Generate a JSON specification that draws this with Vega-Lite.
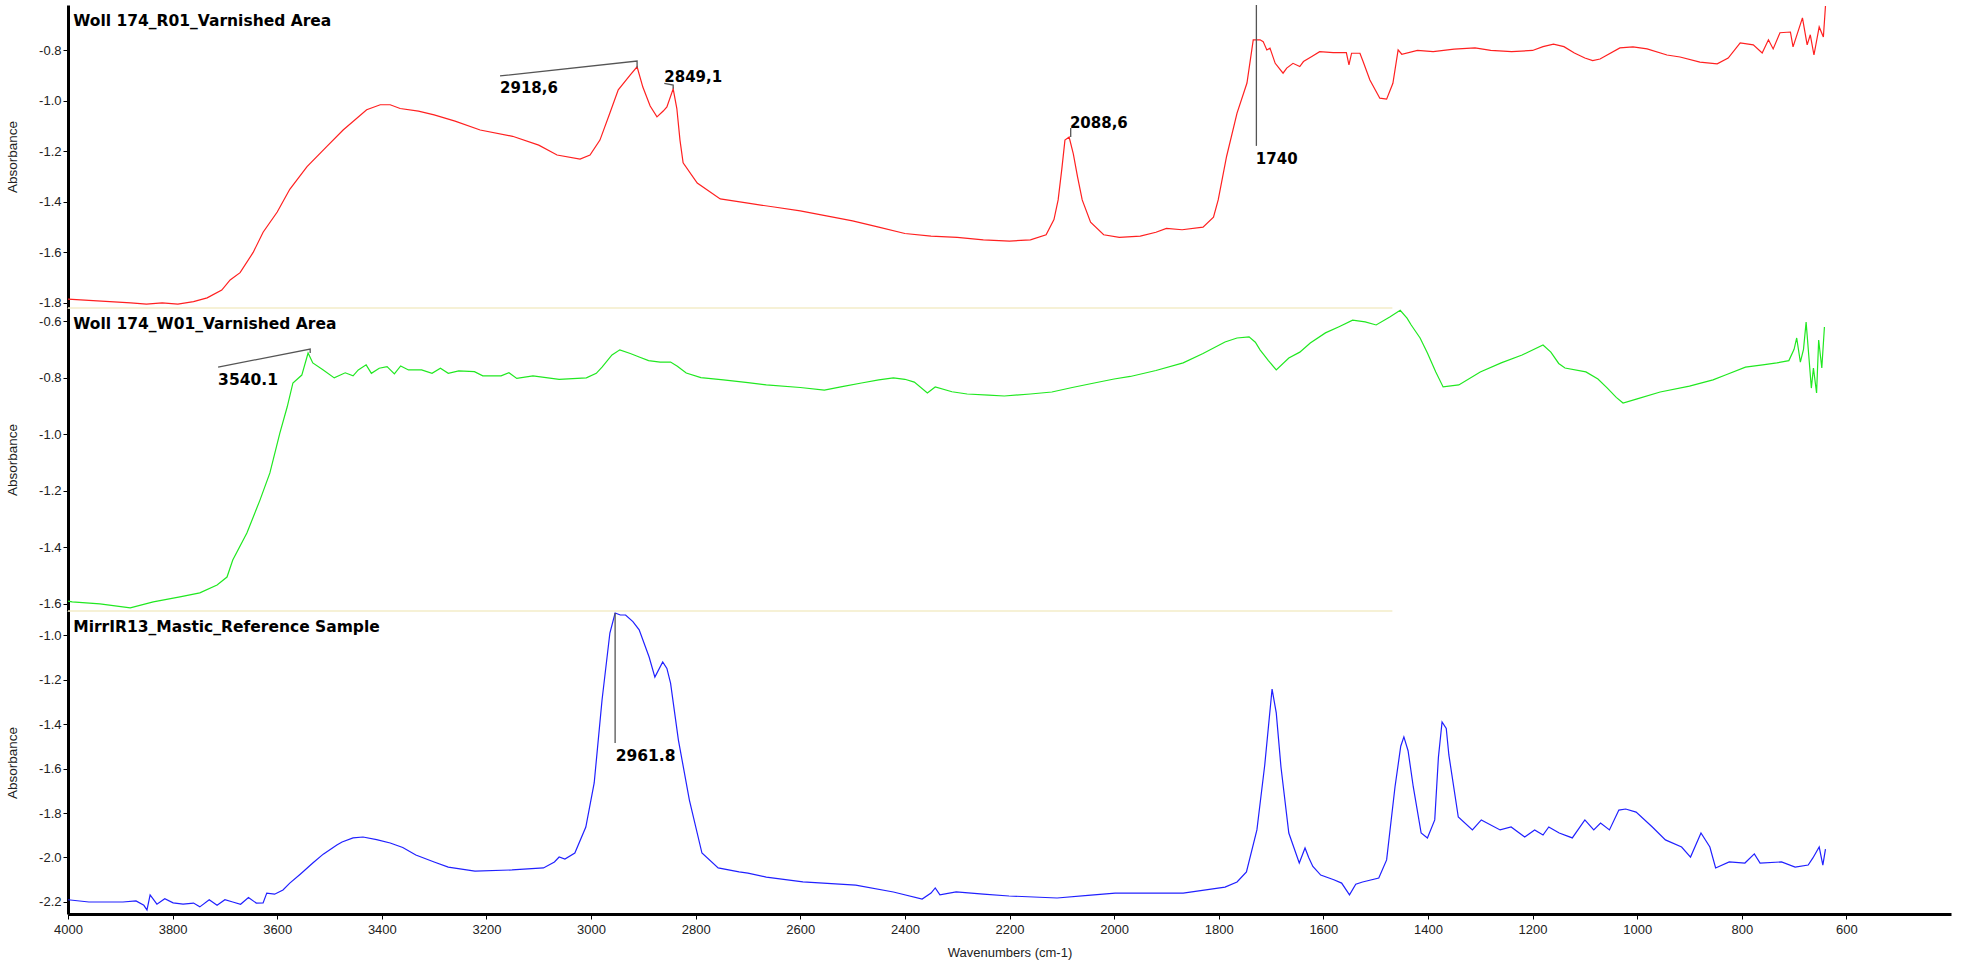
{
  "$schema": "https://vega.github.io/schema/vega-lite/v6.json",
  "width": 1883,
  "height": 909,
  "autosize": {"type": "none"},
  "padding": {"left": 68, "top": 5, "right": 10, "bottom": 53},
  "background": "white",
  "config": {"view": {"stroke": null}, "font": "Liberation Sans"},
  "datasets": {
    "red": [
      {"wn":4000,"a":-1.785},{"wn":3960,"a":-1.79},{"wn":3920,"a":-1.795},{"wn":3880,"a":-1.80},{"wn":3850,"a":-1.805},{"wn":3820,"a":-1.80},{"wn":3790,"a":-1.805},{"wn":3760,"a":-1.795},{"wn":3734,"a":-1.78},{"wn":3706,"a":-1.749},{"wn":3690,"a":-1.709},{"wn":3671,"a":-1.68},{"wn":3646,"a":-1.60},{"wn":3627,"a":-1.52},{"wn":3600,"a":-1.44},{"wn":3576,"a":-1.35},{"wn":3543,"a":-1.26},{"wn":3505,"a":-1.18},{"wn":3474,"a":-1.115},{"wn":3429,"a":-1.035},{"wn":3403,"a":-1.015},{"wn":3384,"a":-1.015},{"wn":3365,"a":-1.03},{"wn":3330,"a":-1.04},{"wn":3300,"a":-1.055},{"wn":3260,"a":-1.08},{"wn":3212,"a":-1.115},{"wn":3150,"a":-1.14},{"wn":3100,"a":-1.175},{"wn":3065,"a":-1.214},{"wn":3021,"a":-1.23},{"wn":3002,"a":-1.214},{"wn":2983,"a":-1.155},{"wn":2964,"a":-1.048},{"wn":2948,"a":-0.956},{"wn":2925,"a":-0.897},{"wn":2912,"a":-0.865},{"wn":2901,"a":-0.945},{"wn":2887,"a":-1.02},{"wn":2874,"a":-1.063},{"wn":2862,"a":-1.04},{"wn":2855,"a":-1.024},{"wn":2843,"a":-0.952},{"wn":2836,"a":-1.03},{"wn":2830,"a":-1.155},{"wn":2824,"a":-1.245},{"wn":2797,"a":-1.325},{"wn":2753,"a":-1.388},{"wn":2700,"a":-1.405},{"wn":2650,"a":-1.42},{"wn":2600,"a":-1.435},{"wn":2550,"a":-1.455},{"wn":2500,"a":-1.475},{"wn":2450,"a":-1.50},{"wn":2400,"a":-1.525},{"wn":2350,"a":-1.535},{"wn":2300,"a":-1.54},{"wn":2250,"a":-1.55},{"wn":2200,"a":-1.555},{"wn":2160,"a":-1.55},{"wn":2130,"a":-1.53},{"wn":2115,"a":-1.47},{"wn":2107,"a":-1.392},{"wn":2100,"a":-1.27},{"wn":2094,"a":-1.155},{"wn":2086,"a":-1.143},{"wn":2078,"a":-1.21},{"wn":2070,"a":-1.30},{"wn":2061,"a":-1.392},{"wn":2045,"a":-1.48},{"wn":2020,"a":-1.53},{"wn":1990,"a":-1.54},{"wn":1950,"a":-1.535},{"wn":1920,"a":-1.52},{"wn":1900,"a":-1.505},{"wn":1870,"a":-1.51},{"wn":1830,"a":-1.50},{"wn":1810,"a":-1.46},{"wn":1801,"a":-1.392},{"wn":1785,"a":-1.22},{"wn":1765,"a":-1.048},{"wn":1746,"a":-0.929},{"wn":1734,"a":-0.758},{"wn":1721,"a":-0.758},{"wn":1715,"a":-0.765},{"wn":1708,"a":-0.798},{"wn":1702,"a":-0.791},{"wn":1692,"a":-0.851},{"wn":1677,"a":-0.89},{"wn":1670,"a":-0.87},{"wn":1658,"a":-0.851},{"wn":1645,"a":-0.864},{"wn":1638,"a":-0.844},{"wn":1622,"a":-0.824},{"wn":1607,"a":-0.805},{"wn":1581,"a":-0.809},{"wn":1556,"a":-0.809},{"wn":1551,"a":-0.857},{"wn":1546,"a":-0.811},{"wn":1530,"a":-0.811},{"wn":1524,"a":-0.844},{"wn":1511,"a":-0.917},{"wn":1492,"a":-0.989},{"wn":1479,"a":-0.993},{"wn":1467,"a":-0.93},{"wn":1457,"a":-0.798},{"wn":1450,"a":-0.815},{"wn":1420,"a":-0.80},{"wn":1390,"a":-0.805},{"wn":1350,"a":-0.795},{"wn":1310,"a":-0.79},{"wn":1280,"a":-0.80},{"wn":1240,"a":-0.805},{"wn":1200,"a":-0.80},{"wn":1180,"a":-0.785},{"wn":1160,"a":-0.775},{"wn":1140,"a":-0.785},{"wn":1120,"a":-0.81},{"wn":1100,"a":-0.83},{"wn":1085,"a":-0.84},{"wn":1071,"a":-0.834},{"wn":1033,"a":-0.79},{"wn":1008,"a":-0.786},{"wn":981,"a":-0.794},{"wn":943,"a":-0.818},{"wn":918,"a":-0.826},{"wn":880,"a":-0.846},{"wn":847,"a":-0.853},{"wn":826,"a":-0.83},{"wn":803,"a":-0.77},{"wn":778,"a":-0.778},{"wn":761,"a":-0.81},{"wn":749,"a":-0.758},{"wn":740,"a":-0.794},{"wn":727,"a":-0.73},{"wn":707,"a":-0.727},{"wn":702,"a":-0.786},{"wn":684,"a":-0.671},{"wn":675,"a":-0.778},{"wn":669,"a":-0.738},{"wn":662,"a":-0.818},{"wn":652,"a":-0.707},{"wn":644,"a":-0.747},{"wn":640,"a":-0.624}
    ],
    "green": [
      {"wn":4000,"a":-1.59},{"wn":3992,"a":-1.593},{"wn":3939,"a":-1.60},{"wn":3881,"a":-1.614},{"wn":3837,"a":-1.593},{"wn":3786,"a":-1.575},{"wn":3748,"a":-1.561},{"wn":3715,"a":-1.533},{"wn":3696,"a":-1.505},{"wn":3685,"a":-1.445},{"wn":3658,"a":-1.349},{"wn":3633,"a":-1.233},{"wn":3614,"a":-1.137},{"wn":3595,"a":-0.996},{"wn":3581,"a":-0.904},{"wn":3570,"a":-0.819},{"wn":3553,"a":-0.791},{"wn":3541,"a":-0.713},{"wn":3532,"a":-0.748},{"wn":3512,"a":-0.773},{"wn":3491,"a":-0.801},{"wn":3470,"a":-0.783},{"wn":3455,"a":-0.794},{"wn":3445,"a":-0.773},{"wn":3430,"a":-0.755},{"wn":3420,"a":-0.785},{"wn":3405,"a":-0.767},{"wn":3390,"a":-0.761},{"wn":3376,"a":-0.787},{"wn":3364,"a":-0.759},{"wn":3349,"a":-0.773},{"wn":3324,"a":-0.773},{"wn":3304,"a":-0.785},{"wn":3288,"a":-0.767},{"wn":3273,"a":-0.785},{"wn":3253,"a":-0.776},{"wn":3223,"a":-0.779},{"wn":3207,"a":-0.794},{"wn":3172,"a":-0.794},{"wn":3157,"a":-0.783},{"wn":3142,"a":-0.803},{"wn":3111,"a":-0.794},{"wn":3061,"a":-0.806},{"wn":3009,"a":-0.801},{"wn":2990,"a":-0.785},{"wn":2979,"a":-0.763},{"wn":2960,"a":-0.72},{"wn":2945,"a":-0.702},{"wn":2925,"a":-0.715},{"wn":2908,"a":-0.727},{"wn":2890,"a":-0.74},{"wn":2868,"a":-0.745},{"wn":2848,"a":-0.745},{"wn":2835,"a":-0.76},{"wn":2818,"a":-0.784},{"wn":2790,"a":-0.80},{"wn":2747,"a":-0.808},{"wn":2700,"a":-0.818},{"wn":2665,"a":-0.826},{"wn":2600,"a":-0.835},{"wn":2554,"a":-0.844},{"wn":2520,"a":-0.832},{"wn":2483,"a":-0.819},{"wn":2450,"a":-0.808},{"wn":2422,"a":-0.801},{"wn":2400,"a":-0.806},{"wn":2382,"a":-0.816},{"wn":2357,"a":-0.854},{"wn":2342,"a":-0.833},{"wn":2310,"a":-0.85},{"wn":2281,"a":-0.858},{"wn":2240,"a":-0.862},{"wn":2210,"a":-0.865},{"wn":2160,"a":-0.858},{"wn":2119,"a":-0.851},{"wn":2080,"a":-0.835},{"wn":2038,"a":-0.819},{"wn":2000,"a":-0.805},{"wn":1969,"a":-0.796},{"wn":1920,"a":-0.775},{"wn":1868,"a":-0.748},{"wn":1830,"a":-0.715},{"wn":1788,"a":-0.674},{"wn":1765,"a":-0.66},{"wn":1742,"a":-0.656},{"wn":1730,"a":-0.675},{"wn":1721,"a":-0.702},{"wn":1705,"a":-0.74},{"wn":1690,"a":-0.773},{"wn":1666,"a":-0.731},{"wn":1645,"a":-0.71},{"wn":1625,"a":-0.678},{"wn":1596,"a":-0.642},{"wn":1570,"a":-0.62},{"wn":1544,"a":-0.597},{"wn":1520,"a":-0.603},{"wn":1499,"a":-0.614},{"wn":1473,"a":-0.586},{"wn":1453,"a":-0.562},{"wn":1440,"a":-0.59},{"wn":1432,"a":-0.614},{"wn":1415,"a":-0.66},{"wn":1401,"a":-0.713},{"wn":1385,"a":-0.78},{"wn":1371,"a":-0.833},{"wn":1341,"a":-0.826},{"wn":1300,"a":-0.780},{"wn":1260,"a":-0.748},{"wn":1220,"a":-0.72},{"wn":1180,"a":-0.685},{"wn":1165,"a":-0.71},{"wn":1150,"a":-0.75},{"wn":1138,"a":-0.766},{"wn":1098,"a":-0.780},{"wn":1075,"a":-0.805},{"wn":1057,"a":-0.837},{"wn":1040,"a":-0.87},{"wn":1027,"a":-0.890},{"wn":1000,"a":-0.875},{"wn":956,"a":-0.851},{"wn":900,"a":-0.83},{"wn":855,"a":-0.808},{"wn":830,"a":-0.79},{"wn":793,"a":-0.763},{"wn":760,"a":-0.755},{"wn":733,"a":-0.748},{"wn":710,"a":-0.74},{"wn":700,"a":-0.70},{"wn":695,"a":-0.660},{"wn":688,"a":-0.745},{"wn":682,"a":-0.70},{"wn":677,"a":-0.604},{"wn":672,"a":-0.72},{"wn":667,"a":-0.837},{"wn":663,"a":-0.766},{"wn":657,"a":-0.854},{"wn":653,"a":-0.667},{"wn":647,"a":-0.766},{"wn":642,"a":-0.621}
    ],
    "blue": [
      {"wn":4000,"a":-2.19},{"wn":3960,"a":-2.20},{"wn":3939,"a":-2.2},{"wn":3895,"a":-2.2},{"wn":3870,"a":-2.195},{"wn":3855,"a":-2.215},{"wn":3849,"a":-2.236},{"wn":3843,"a":-2.168},{"wn":3830,"a":-2.21},{"wn":3815,"a":-2.185},{"wn":3799,"a":-2.204},{"wn":3780,"a":-2.21},{"wn":3760,"a":-2.205},{"wn":3748,"a":-2.222},{"wn":3730,"a":-2.19},{"wn":3715,"a":-2.215},{"wn":3700,"a":-2.19},{"wn":3685,"a":-2.2},{"wn":3670,"a":-2.21},{"wn":3655,"a":-2.18},{"wn":3640,"a":-2.205},{"wn":3627,"a":-2.204},{"wn":3620,"a":-2.16},{"wn":3605,"a":-2.165},{"wn":3589,"a":-2.146},{"wn":3576,"a":-2.115},{"wn":3556,"a":-2.075},{"wn":3532,"a":-2.025},{"wn":3512,"a":-1.985},{"wn":3486,"a":-1.944},{"wn":3476,"a":-1.930},{"wn":3455,"a":-1.912},{"wn":3436,"a":-1.908},{"wn":3410,"a":-1.92},{"wn":3384,"a":-1.935},{"wn":3360,"a":-1.955},{"wn":3335,"a":-1.989},{"wn":3300,"a":-2.02},{"wn":3273,"a":-2.043},{"wn":3222,"a":-2.061},{"wn":3151,"a":-2.056},{"wn":3091,"a":-2.047},{"wn":3070,"a":-2.02},{"wn":3061,"a":-1.998},{"wn":3050,"a":-2.007},{"wn":3031,"a":-1.98},{"wn":3010,"a":-1.863},{"wn":2994,"a":-1.665},{"wn":2979,"a":-1.292},{"wn":2964,"a":-0.991},{"wn":2954,"a":-0.901},{"wn":2944,"a":-0.91},{"wn":2934,"a":-0.91},{"wn":2920,"a":-0.94},{"wn":2908,"a":-0.977},{"wn":2889,"a":-1.099},{"wn":2878,"a":-1.189},{"wn":2863,"a":-1.121},{"wn":2855,"a":-1.15},{"wn":2848,"a":-1.216},{"wn":2833,"a":-1.472},{"wn":2812,"a":-1.742},{"wn":2788,"a":-1.98},{"wn":2757,"a":-2.047},{"wn":2717,"a":-2.065},{"wn":2700,"a":-2.07},{"wn":2665,"a":-2.088},{"wn":2595,"a":-2.11},{"wn":2494,"a":-2.124},{"wn":2422,"a":-2.155},{"wn":2367,"a":-2.187},{"wn":2350,"a":-2.16},{"wn":2342,"a":-2.137},{"wn":2333,"a":-2.168},{"wn":2302,"a":-2.155},{"wn":2250,"a":-2.165},{"wn":2201,"a":-2.173},{"wn":2109,"a":-2.182},{"wn":2050,"a":-2.17},{"wn":1998,"a":-2.16},{"wn":1969,"a":-2.16},{"wn":1868,"a":-2.16},{"wn":1788,"a":-2.133},{"wn":1765,"a":-2.11},{"wn":1747,"a":-2.065},{"wn":1727,"a":-1.876},{"wn":1712,"a":-1.584},{"wn":1698,"a":-1.243},{"wn":1690,"a":-1.35},{"wn":1681,"a":-1.593},{"wn":1666,"a":-1.89},{"wn":1646,"a":-2.025},{"wn":1635,"a":-1.957},{"wn":1628,"a":-2.0},{"wn":1620,"a":-2.04},{"wn":1605,"a":-2.079},{"wn":1580,"a":-2.10},{"wn":1565,"a":-2.115},{"wn":1550,"a":-2.168},{"wn":1538,"a":-2.12},{"wn":1525,"a":-2.11},{"wn":1494,"a":-2.092},{"wn":1479,"a":-2.011},{"wn":1463,"a":-1.683},{"wn":1452,"a":-1.50},{"wn":1446,"a":-1.458},{"wn":1438,"a":-1.52},{"wn":1428,"a":-1.683},{"wn":1413,"a":-1.89},{"wn":1401,"a":-1.912},{"wn":1387,"a":-1.831},{"wn":1380,"a":-1.55},{"wn":1373,"a":-1.391},{"wn":1365,"a":-1.42},{"wn":1360,"a":-1.539},{"wn":1342,"a":-1.818},{"wn":1315,"a":-1.876},{"wn":1298,"a":-1.831},{"wn":1262,"a":-1.876},{"wn":1241,"a":-1.863},{"wn":1215,"a":-1.908},{"wn":1196,"a":-1.876},{"wn":1180,"a":-1.899},{"wn":1169,"a":-1.863},{"wn":1149,"a":-1.89},{"wn":1124,"a":-1.912},{"wn":1100,"a":-1.831},{"wn":1083,"a":-1.876},{"wn":1070,"a":-1.845},{"wn":1053,"a":-1.876},{"wn":1035,"a":-1.787},{"wn":1022,"a":-1.782},{"wn":1002,"a":-1.796},{"wn":971,"a":-1.863},{"wn":946,"a":-1.921},{"wn":915,"a":-1.953},{"wn":898,"a":-1.998},{"wn":878,"a":-1.89},{"wn":861,"a":-1.953},{"wn":850,"a":-2.047},{"wn":824,"a":-2.02},{"wn":794,"a":-2.025},{"wn":776,"a":-1.984},{"wn":765,"a":-2.025},{"wn":724,"a":-2.02},{"wn":698,"a":-2.043},{"wn":673,"a":-2.034},{"wn":664,"a":-2.002},{"wn":652,"a":-1.953},{"wn":645,"a":-2.034},{"wn":640,"a":-1.962}
    ],
    "sep1": [{"wn":4000,"a":-1.82},{"wn":1468,"a":-1.82}],
    "sep2": [{"wn":4000,"a":-1.625},{"wn":1468,"a":-1.625}],
    "lead1": [
      {"id":"A","o":1,"wn":3174,"a":-0.901},{"id":"A","o":2,"wn":2912,"a":-0.842},{"id":"A","o":3,"wn":2912,"a":-0.869},
      {"id":"B","o":1,"wn":2860,"a":-0.93},{"id":"B","o":2,"wn":2843,"a":-0.937},{"id":"B","o":3,"wn":2843,"a":-0.952},
      {"id":"C","o":1,"wn":2083,"a":-1.107},{"id":"C","o":2,"wn":2083,"a":-1.143},
      {"id":"D","o":1,"wn":1728,"a":-0.62},{"id":"D","o":2,"wn":1728,"a":-1.178}
    ],
    "lab1": [
      {"wn":3174,"a":-0.968,"t":"2918,6"},
      {"wn":2860,"a":-0.925,"t":"2849,1"},
      {"wn":2084.5,"a":-1.107,"t":"2088,6"},
      {"wn":1729,"a":-1.249,"t":"1740"}
    ],
    "title1": [{"wn":3990,"a":-0.703,"t":"Woll 174_R01_Varnished Area"}],
    "lead2": [
      {"id":"A","o":1,"wn":3713,"a":-0.763},{"id":"A","o":2,"wn":3537,"a":-0.699},{"id":"A","o":3,"wn":3537,"a":-0.713}
    ],
    "lab2": [
      {"wn":3713,"a":-0.826,"t":"3540.1"},
      {"wn":3990,"a":-0.628,"t":"Woll 174_W01_Varnished Area"}
    ],
    "lead3": [
      {"id":"A","o":1,"wn":2954,"a":-0.901},{"id":"A","o":2,"wn":2954,"a":-1.485}
    ],
    "lab3": [
      {"wn":2953,"a":-1.566,"t":"2961.8"},
      {"wn":3990,"a":-0.987,"t":"MirrIR13_Mastic_Reference Sample"}
    ]
  },
  "encoding": {
    "x": {
      "field": "wn",
      "type": "quantitative",
      "scale": {"domain": [400, 4000], "reverse": true, "nice": false, "zero": false},
      "axis": {
        "values": [4000,3800,3600,3400,3200,3000,2800,2600,2400,2200,2000,1800,1600,1400,1200,1000,800,600],
        "format": "d",
        "title": "Wavenumbers (cm-1)",
        "grid": false,
        "labelFlush": false,
        "labelFont": "Liberation Sans",
        "labelFontSize": 13,
        "labelColor": "#222",
        "labelPadding": 4,
        "tickSize": 5,
        "tickColor": "#000",
        "domainColor": "#000",
        "domainWidth": 3,
        "titleFont": "Liberation Sans",
        "titleFontSize": 13,
        "titleFontWeight": "normal",
        "titleColor": "#222",
        "titlePadding": 10
      }
    }
  },
  "layer": [
    {
      "encoding": {
        "y": {
          "field": "a",
          "type": "quantitative",
          "scale": {"domain": [-1.82, -0.62], "range": [303, 0], "nice": false, "zero": false},
          "axis": {
            "orient": "left",
            "values": [-0.8, -1.0, -1.2, -1.4, -1.6, -1.8],
            "format": ".1f",
            "labelExpr": "replace(datum.label, '\u2212', '-')",
            "title": "Absorbance",
            "grid": false,
            "labelFlush": false,
            "labelFont": "Liberation Sans",
            "labelFontSize": 13,
            "labelColor": "#222",
            "labelPadding": 2,
            "tickSize": 5,
            "tickColor": "#000",
            "domainColor": "#000",
            "domainWidth": 3,
            "titleFont": "Liberation Sans",
            "titleFontSize": 13.5,
            "titleFontWeight": "normal",
            "titleColor": "#222",
            "titlePadding": 19
          }
        }
      },
      "layer": [
        {"data": {"name": "sep1"}, "mark": {"type": "line", "color": "#f3ecc8", "strokeWidth": 1.5}, "encoding": {}},
        {"data": {"name": "red"}, "mark": {"type": "line", "color": "#ff2020", "strokeWidth": 1.2}, "encoding": {}},
        {"data": {"name": "lead1"}, "mark": {"type": "line", "color": "#555555", "strokeWidth": 1.3}, "encoding": {"detail": {"field": "id"}, "order": {"field": "o"}}},
        {"data": {"name": "lab1"}, "mark": {"type": "text", "font": "DejaVu Sans", "fontWeight": "bold", "fontSize": 15, "align": "left", "baseline": "alphabetic", "color": "#000"}, "encoding": {"text": {"field": "t"}}},
        {"data": {"name": "title1"}, "mark": {"type": "text", "font": "DejaVu Sans", "fontWeight": "bold", "fontSize": 15.5, "align": "left", "baseline": "alphabetic", "color": "#000"}, "encoding": {"text": {"field": "t"}}}
      ]
    },
    {
      "encoding": {
        "y": {
          "field": "a",
          "type": "quantitative",
          "scale": {"domain": [-1.625, -0.554], "range": [606, 303], "nice": false, "zero": false},
          "axis": {
            "orient": "left",
            "values": [-0.6, -0.8, -1.0, -1.2, -1.4, -1.6],
            "format": ".1f",
            "labelExpr": "replace(datum.label, '\u2212', '-')",
            "title": "Absorbance",
            "grid": false,
            "labelFlush": false,
            "labelFont": "Liberation Sans",
            "labelFontSize": 13,
            "labelColor": "#222",
            "labelPadding": 2,
            "tickSize": 5,
            "tickColor": "#000",
            "domainColor": "#000",
            "domainWidth": 3,
            "titleFont": "Liberation Sans",
            "titleFontSize": 13.5,
            "titleFontWeight": "normal",
            "titleColor": "#222",
            "titlePadding": 19
          }
        }
      },
      "layer": [
        {"data": {"name": "sep2"}, "mark": {"type": "line", "color": "#f3ecc8", "strokeWidth": 1.5}, "encoding": {}},
        {"data": {"name": "green"}, "mark": {"type": "line", "color": "#20e820", "strokeWidth": 1.2}, "encoding": {}},
        {"data": {"name": "lead2"}, "mark": {"type": "line", "color": "#555555", "strokeWidth": 1.3}, "encoding": {"detail": {"field": "id"}, "order": {"field": "o"}}},
        {"data": {"name": "lab2"}, "mark": {"type": "text", "font": "DejaVu Sans", "fontWeight": "bold", "fontSize": 15.5, "align": "left", "baseline": "alphabetic", "color": "#000"}, "encoding": {"text": {"field": "t"}}}
      ]
    },
    {
      "encoding": {
        "y": {
          "field": "a",
          "type": "quantitative",
          "scale": {"domain": [-2.254, -0.892], "range": [909, 606], "nice": false, "zero": false},
          "axis": {
            "orient": "left",
            "values": [-1.0, -1.2, -1.4, -1.6, -1.8, -2.0, -2.2],
            "format": ".1f",
            "labelExpr": "replace(datum.label, '\u2212', '-')",
            "title": "Absorbance",
            "grid": false,
            "labelFlush": false,
            "labelFont": "Liberation Sans",
            "labelFontSize": 13,
            "labelColor": "#222",
            "labelPadding": 2,
            "tickSize": 5,
            "tickColor": "#000",
            "domainColor": "#000",
            "domainWidth": 3,
            "titleFont": "Liberation Sans",
            "titleFontSize": 13.5,
            "titleFontWeight": "normal",
            "titleColor": "#222",
            "titlePadding": 19
          }
        }
      },
      "layer": [
        {"data": {"name": "blue"}, "mark": {"type": "line", "color": "#2020ff", "strokeWidth": 1.2}, "encoding": {}},
        {"data": {"name": "lead3"}, "mark": {"type": "line", "color": "#555555", "strokeWidth": 1.3}, "encoding": {"detail": {"field": "id"}, "order": {"field": "o"}}},
        {"data": {"name": "lab3"}, "mark": {"type": "text", "font": "DejaVu Sans", "fontWeight": "bold", "fontSize": 15.5, "align": "left", "baseline": "alphabetic", "color": "#000"}, "encoding": {"text": {"field": "t"}}}
      ]
    }
  ],
  "resolve": {"scale": {"y": "independent"}, "axis": {"y": "independent"}}
}
